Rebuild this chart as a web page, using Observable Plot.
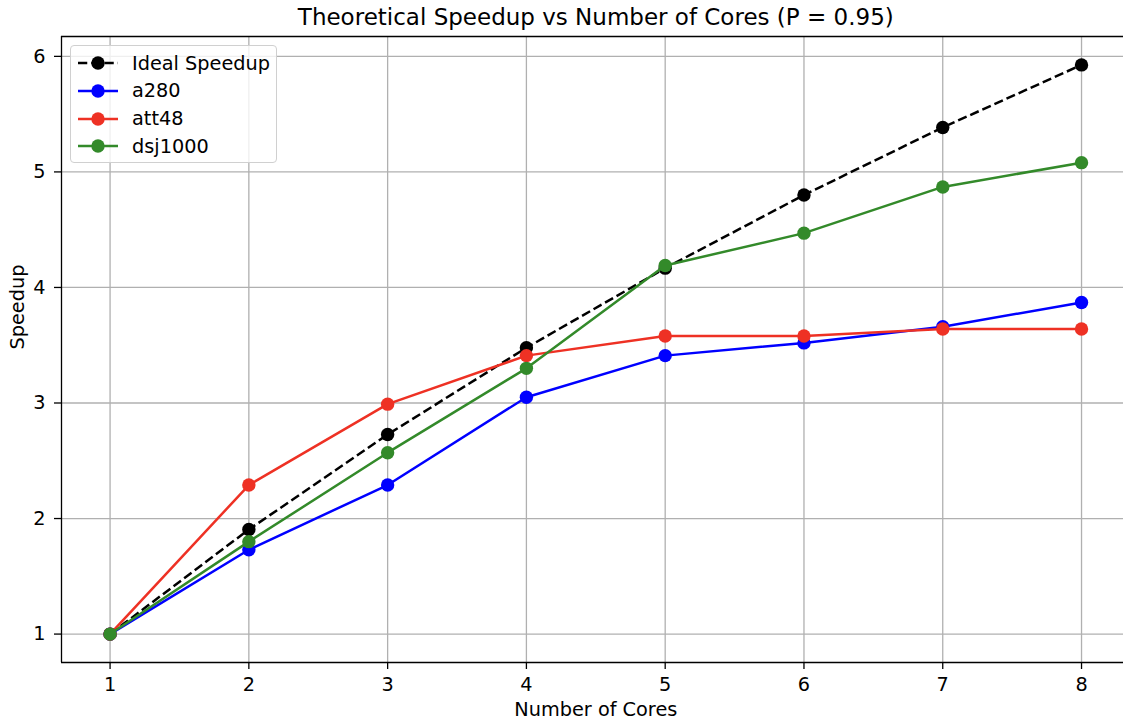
<!DOCTYPE html>
<html>
<head>
<meta charset="utf-8">
<script src="https://cdn.jsdelivr.net/npm/d3@7"></script>
<script src="https://cdn.jsdelivr.net/npm/@observablehq/plot@0.6"></script>
<style>
  html, body { margin: 0; padding: 0; background: #fff; }
  #wrap { position: relative; width: 1123px; height: 721px; font-family: "DejaVu Sans", sans-serif; }
  #legend { position: absolute; left: 70px; top: 45px; width: 207px; height: 118px;
    border: 1px solid #d0d0d0; border-radius: 4px; background: rgba(255,255,255,0.8); box-sizing: border-box; }
  .row { position: absolute; left: 0; height: 28px; display: flex; align-items: center; }
  .row span { font-size: 19.3px; color: #000; white-space: nowrap; }
</style>
</head>
<body>
<div id="wrap"><div id="legend"></div></div>
<script>
const cores = [1, 2, 3, 4, 5, 6, 7, 8];
const ideal   = [1.00, 1.905, 2.727, 3.478, 4.167, 4.80, 5.385, 5.926];
const a280    = [1.00, 1.73, 2.29, 3.05, 3.41, 3.52, 3.66, 3.87];
const att48   = [1.00, 2.29, 2.99, 3.41, 3.58, 3.58, 3.64, 3.64];
const dsj1000 = [1.00, 1.80, 2.57, 3.30, 4.19, 4.47, 4.87, 5.08];
const seriesNames = ["Ideal Speedup", "a280", "att48", "dsj1000"];
const seriesValues = [ideal, a280, att48, dsj1000];
const seriesColors = ["#000000", "#0000ff", "#ee3124", "#338a2a"];
const yTicks = [1, 2, 3, 4, 5, 6];
const title = "Theoretical Speedup vs Number of Cores (P = 0.95)";
const xLabel = "Number of Cores";
const yLabel = "Speedup";

const data = seriesNames.flatMap((name, i) =>
  cores.map((c, j) => ({series: name, cores: c, speedup: seriesValues[i][j]})));

const xMin = 0.65, xMax = 8.35;
const yMin = 0.754, yMax = 6.172;
const FS = 19.3;

const marks = [
  Plot.gridX(cores, {stroke: "#b0b0b0", strokeOpacity: 1, strokeWidth: 1.3}),
  Plot.gridY(yTicks, {stroke: "#b0b0b0", strokeOpacity: 1, strokeWidth: 1.3}),
  Plot.axisX(cores, {tickSize: 7, tickPadding: 8, fontSize: FS, tickFormat: d => d, label: null, strokeWidth: 1.3}),
  Plot.axisY(yTicks, {tickSize: 7, tickPadding: 9, fontSize: FS, tickFormat: d => d, label: null, strokeWidth: 1.3}),
];
seriesNames.forEach((name, i) => {
  const d = data.filter(r => r.series === name);
  marks.push(Plot.line(d, {x: "cores", y: "speedup", stroke: seriesColors[i], strokeWidth: 2.5,
    strokeDasharray: i === 0 ? "9.25,4" : null, strokeLinecap: "butt"}));
  marks.push(Plot.dot(d, {x: "cores", y: "speedup", fill: seriesColors[i], r: 6.7}));
});
marks.push(
  Plot.ruleX([xMin], {stroke: "#000", strokeWidth: 1.3}),
  Plot.ruleY([yMin, yMax], {stroke: "#000", strokeWidth: 1.3}),
  Plot.text([title], {x: () => (1 + 8) / 2, frameAnchor: "top", lineAnchor: "middle", dy: -19, text: d => d, fontSize: 23, fill: "#000"}),
  Plot.text([xLabel], {x: () => (1 + 8) / 2, frameAnchor: "bottom", lineAnchor: "middle", dy: 47, text: d => d, fontSize: FS, fill: "#000"}),
  Plot.text([yLabel], {frameAnchor: "left", lineAnchor: "middle", dx: -44, rotate: -90, text: d => d, fontSize: FS, fill: "#000"})
);

const chart = Plot.plot({
  width: 1123, height: 721,
  marginLeft: 61, marginTop: 36, marginBottom: 59, marginRight: 0,
  style: {fontFamily: "DejaVu Sans, sans-serif", background: "#fff", color: "#000", overflow: "hidden"},
  x: {domain: [xMin, xMax], range: [61, 1129.6]},
  y: {domain: [yMin, yMax]},
  marks
});
document.getElementById("wrap").prepend(chart);

// legend
const legend = document.getElementById("legend");
seriesNames.forEach((name, i) => {
  const row = document.createElement("div");
  row.className = "row";
  row.style.top = (3 + i * 27.8) + "px";
  const svg = d3.create("svg").attr("width", 61).attr("height", 28).style("display", "block");
  svg.append("line").attr("x1", 7).attr("x2", 47).attr("y1", 14).attr("y2", 14)
    .attr("stroke", seriesColors[i]).attr("stroke-width", 2.5)
    .attr("stroke-dasharray", i === 0 ? "9.25,4" : null);
  svg.append("circle").attr("cx", 27).attr("cy", 14).attr("r", 6.7).attr("fill", seriesColors[i]);
  row.appendChild(svg.node());
  const s = document.createElement("span");
  s.textContent = name;
  row.appendChild(s);
  legend.appendChild(row);
});
</script>
</body>
</html>
